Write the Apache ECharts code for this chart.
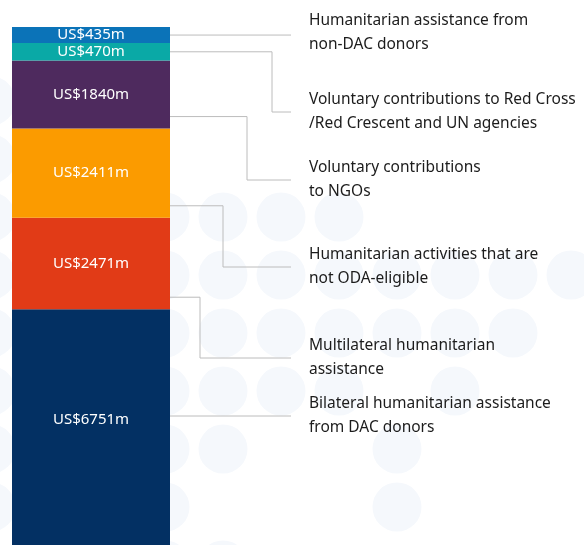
<!DOCTYPE html>
<html>
<head>
<meta charset="utf-8">
<script src="https://cdn.jsdelivr.net/npm/echarts@6/dist/echarts.min.js"></script>
<style>
  html, body { margin: 0; padding: 0; background: #fff; }
  #chart { width: 584px; height: 545px; }
</style>
</head>
<body>
<div id="chart"></div>
<script>
// stacked from the bottom of the bar up
const categories = [
  "Bilateral humanitarian assistance\nfrom DAC donors",
  "Multilateral humanitarian\nassistance",
  "Humanitarian activities that are\nnot ODA-eligible",
  "Voluntary contributions\nto NGOs",
  "Voluntary contributions to Red Cross\n/Red Crescent and UN agencies",
  "Humanitarian assistance from\nnon-DAC donors"
];
const values = [6751, 2471, 2411, 1840, 470, 435];

const colors = ["#033063", "#e13b17", "#fb9b00", "#4e2a5e", "#0aa9a6", "#0b73b8"];

// where each label sits and how its leader line bends
const textY = [416, 358, 267, 180, 112, 33];
const elbowX = [null, 200, 223, 247, 272, null];
const anchor = ["text", "bottom", "bottom", "bottom", "center", "center"];
const lineEndX = 291;
const textX = 309;

const total = values.reduce((a, b) => a + b, 0);

// background dot pattern (decoration only)
const dotRows = {
  101: [0], 159: [0], 217: [0, 3, 4, 5, 6],
  275: [0, 3, 4, 5, 6, 7, 8, 9, 10], 333: [0, 3, 4, 5, 6, 7, 8, 9],
  391: [0, 3, 4, 5, 6, 8], 449: [0, 3, 4, 7], 507: [0, 3, 7], 565: [3, 4]
};
const dots = [];
Object.keys(dotRows).forEach(y => {
  dotRows[y].forEach(c => {
    dots.push({
      type: "circle", silent: true, z: 0,
      shape: { cx: -9 + 58 * c, cy: +y, r: 24.5 },
      style: { fill: "#f5f8fc" }
    });
  });
});

const font = '"Noto Sans", sans-serif';

const barSeries = values.map((v, i) => ({
  type: "bar",
  stack: "total",
  barWidth: "100%",
  data: [v],
  itemStyle: { color: colors[i] },
  label: {
    show: true,
    position: "inside",
    offset: i === 0 ? [0, -14] : [0, 0],
    formatter: "US${c}m",
    color: "#fff",
    fontSize: 15,
    fontFamily: font
  }
}));

// leader lines + right-hand labels, placed from the stacked values
let cum = 0;
const leaderData = values.map((v, i) => {
  const row = [0, cum, cum + v, i];
  cum += v;
  return row;
});

const leaders = {
  type: "custom",
  clip: false,
  silent: true,
  data: leaderData,
  renderItem(params, api) {
    const i = api.value(3);
    const lo = api.coord([0, api.value(1)]);
    const hi = api.coord([0, api.value(2)]);
    const band = api.size([1, 0])[0];
    const x0 = lo[0] + band / 2 - 12;
    let y0;
    if (anchor[i] === "center") y0 = (lo[1] + hi[1]) / 2;
    else if (anchor[i] === "bottom") y0 = lo[1] - 12;
    else y0 = textY[i];
    const pts = elbowX[i] == null
      ? [[x0, y0], [lineEndX, y0]]
      : [[x0, y0], [elbowX[i], y0], [elbowX[i], textY[i]], [lineEndX, textY[i]]];
    return {
      type: "group",
      children: [
        {
          type: "polyline",
          shape: { points: pts },
          style: { stroke: "#bcbcbc", lineWidth: 1, fill: null }
        },
        {
          type: "text",
          style: {
            text: categories[i],
            x: textX, y: textY[i],
            verticalAlign: "middle",
            fill: "#1c1c1c",
            font: "15.5px " + font,
            lineHeight: 24
          }
        }
      ]
    };
  }
};

const myChart = echarts.init(document.getElementById("chart"));
myChart.setOption({
  animation: false,
  graphic: { elements: dots },
  grid: { left: 12, width: 158, top: 27, height: 532, outerBoundsMode: "none" },
  xAxis: { type: "category", data: ["total"], show: false },
  yAxis: { type: "value", min: 0, max: total, show: false },
  series: [...barSeries, leaders]
});
</script>
</body>
</html>
